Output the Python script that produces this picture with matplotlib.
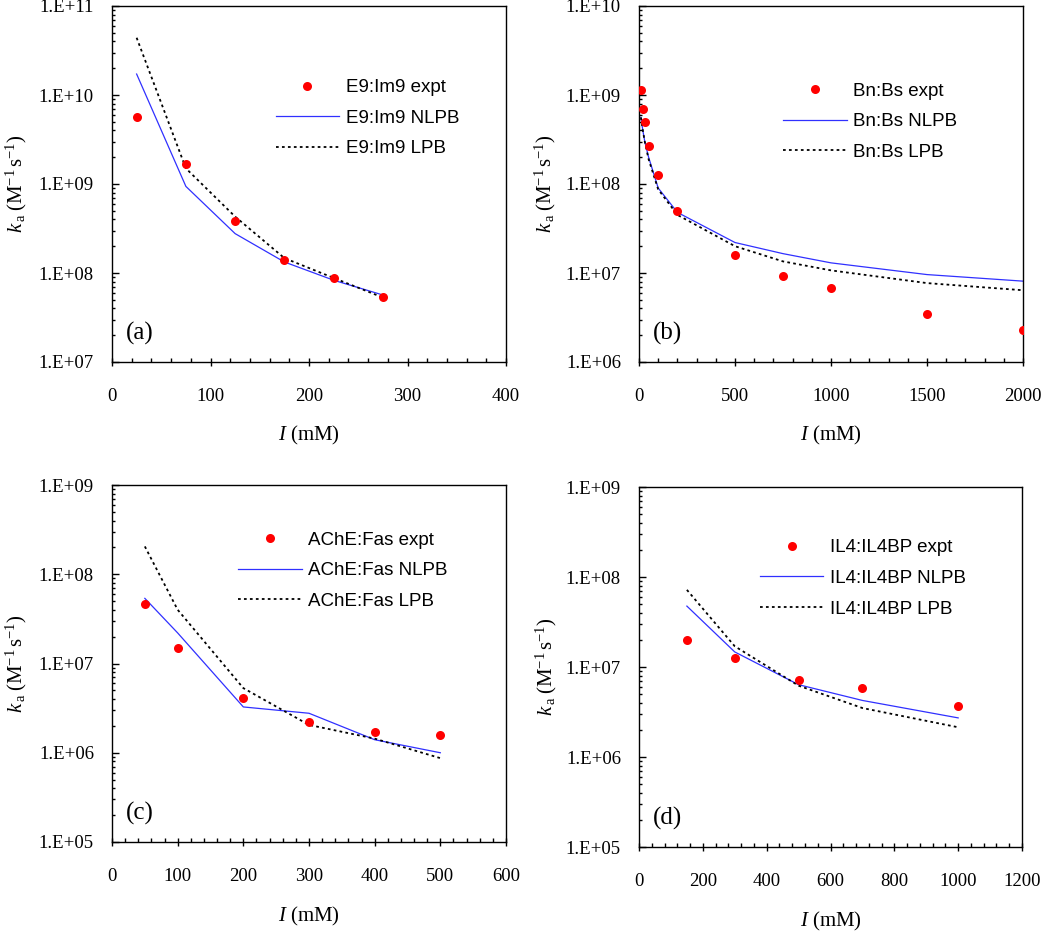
import matplotlib
matplotlib.use('Agg')
import matplotlib.pyplot as plt
import matplotlib.ticker as mticker
import numpy as np

plt.rcParams['font.family'] = 'Liberation Serif'
plt.rcParams['mathtext.fontset'] = 'custom'
plt.rcParams['mathtext.rm'] = 'Liberation Serif'
plt.rcParams['mathtext.it'] = 'Liberation Serif:italic'

# (a) E9:Im9
a_x = [25, 75, 125, 175, 225, 275]
a_expt = [5.7e9, 1.66e9, 3.8e8, 1.41e8, 8.7e7, 5.4e7]
a_nlpb = [1.72e10, 9.4e8, 2.77e8, 1.33e8, 8.3e7, 5.66e7]
a_lpb = [4.4e10, 1.5e9, 4.3e8, 1.47e8, 8.8e7, 5.3e7]

# (b) Bn:Bs
b_x = [10, 20, 30, 50, 100, 200, 500, 750, 1000, 1500, 2000]
b_expt = [1.14e9, 7.0e8, 5.0e8, 2.67e8, 1.26e8, 5.0e7, 1.61e7, 9.3e6, 6.7e6, 3.46e6, 2.29e6]
b_nlpb = [5.6e8, 4.0e8, 3.0e8, 2.0e8, 9.0e7, 4.8e7, 2.2e7, 1.65e7, 1.3e7, 9.6e6, 8.1e6]
b_lpb = [5.6e8, 4.0e8, 3.0e8, 1.9e8, 8.7e7, 4.5e7, 2.0e7, 1.35e7, 1.07e7, 7.7e6, 6.4e6]

# (c) AChE:Fas
c_x = [50, 100, 200, 300, 400, 500]
c_expt = [4.6e7, 1.49e7, 4.07e6, 2.19e6, 1.72e6, 1.6e6]
c_nlpb = [5.37e7, 2.2e7, 3.26e6, 2.77e6, 1.4e6, 1.0e6]
c_lpb = [2.05e8, 4.0e7, 5.3e6, 2.05e6, 1.44e6, 8.7e5]

# (d) IL4:IL4BP
d_x = [150, 300, 500, 700, 1000]
d_expt = [2.0e7, 1.25e7, 7.2e6, 5.8e6, 3.7e6]
d_nlpb = [4.75e7, 1.47e7, 6.36e6, 4.25e6, 2.72e6]
d_lpb = [7.2e7, 1.7e7, 6.2e6, 3.5e6, 2.14e6]

panels = [
    dict(name='E9:Im9', tag='(a)', x=a_x, expt=a_expt, nlpb=a_nlpb, lpb=a_lpb,
         xlim=(0, 400), xmaj=100, xmin=20, ylim=(1e7, 1e11),
         rect=(112, 6, 506, 362), leg=(0.415, 0.795)),
    dict(name='Bn:Bs', tag='(b)', x=b_x, expt=b_expt, nlpb=b_nlpb, lpb=b_lpb,
         xlim=(0, 2000), xmaj=500, xmin=100, ylim=(1e6, 1e10),
         rect=(639, 6, 1023, 362), leg=(0.375, 0.785)),
    dict(name='AChE:Fas', tag='(c)', x=c_x, expt=c_expt, nlpb=c_nlpb, lpb=c_lpb,
         xlim=(0, 600), xmaj=100, xmin=20, ylim=(1e5, 1e9),
         rect=(112, 485, 506, 842), leg=(0.32, 0.87)),
    dict(name='IL4:IL4BP', tag='(d)', x=d_x, expt=d_expt, nlpb=d_nlpb, lpb=d_lpb,
         xlim=(0, 1200), xmaj=200, xmin=40, ylim=(1e5, 1e9),
         rect=(639, 487, 1022, 847), leg=(0.315, 0.855)),
]

W, H = 1050, 931
fig = plt.figure(figsize=(W / 100, H / 100), dpi=100)

for p in panels:
    x0, y0, x1, y1 = p['rect']
    ax = fig.add_axes([x0 / W, (H - y1) / H, (x1 - x0) / W, (y1 - y0) / H])
    ax.set_yscale('log')

    ax.plot(p['x'], p['expt'], 'o', color='#ff0000', ms=6.5, mec='none',
            label=p['name'] + ' expt', zorder=3)
    ax.plot(p['x'], p['nlpb'], '-', color='#3030ff', lw=0.9,
            label=p['name'] + ' NLPB')
    ax.plot(p['x'], p['lpb'], color='black', lw=1.3, ls=(0, (1.5, 1.8)),
            label=p['name'] + ' LPB')

    ax.set_xlim(*p['xlim'])
    ax.set_ylim(*p['ylim'])
    ax.xaxis.set_major_locator(mticker.MultipleLocator(p['xmaj']))
    ax.xaxis.set_minor_locator(mticker.MultipleLocator(p['xmin']))
    ax.yaxis.set_major_locator(mticker.LogLocator(base=10, numticks=10))
    ax.yaxis.set_minor_locator(mticker.LogLocator(base=10, subs=np.arange(2, 10), numticks=20))
    ax.yaxis.set_major_formatter(mticker.FuncFormatter(
        lambda v, pos: '1.E+%02d' % int(round(np.log10(v)))))
    ax.yaxis.set_minor_formatter(mticker.NullFormatter())

    ax.tick_params(axis='x', which='major', direction='inout', length=6, width=1,
                   labelsize=13.5, pad=16)
    ax.tick_params(axis='x', which='minor', direction='in', length=3, width=1)
    ax.tick_params(axis='y', which='major', direction='in', length=5, width=1,
                   labelsize=13.5, pad=13)
    ax.tick_params(axis='y', which='minor', direction='in', length=2.5, width=1)
    for s in ax.spines.values():
        s.set_linewidth(1.0)

    ax.set_xlabel(r'$\mathit{I}$ (mM)', fontsize=15)
    ax.xaxis.set_label_coords(0.5, -0.175)
    ax.set_ylabel(r'$\mathit{k}_{\,\mathrm{a}}\;(\mathrm{M}^{-1}\,\mathrm{s}^{-1})$', fontsize=15)
    ax.yaxis.set_label_coords(-0.21, 0.5)

    ax.text(0.035, 0.08, p['tag'], transform=ax.transAxes, fontsize=18,
            va='center', ha='left')

    ax.legend(loc='upper left', bbox_to_anchor=p['leg'], frameon=False,
              borderpad=0, borderaxespad=0, handlelength=3.4, handletextpad=0.35,
              labelspacing=0.72, prop={'family': 'Liberation Sans', 'size': 13.5})

fig.savefig('out.png', dpi=100)
